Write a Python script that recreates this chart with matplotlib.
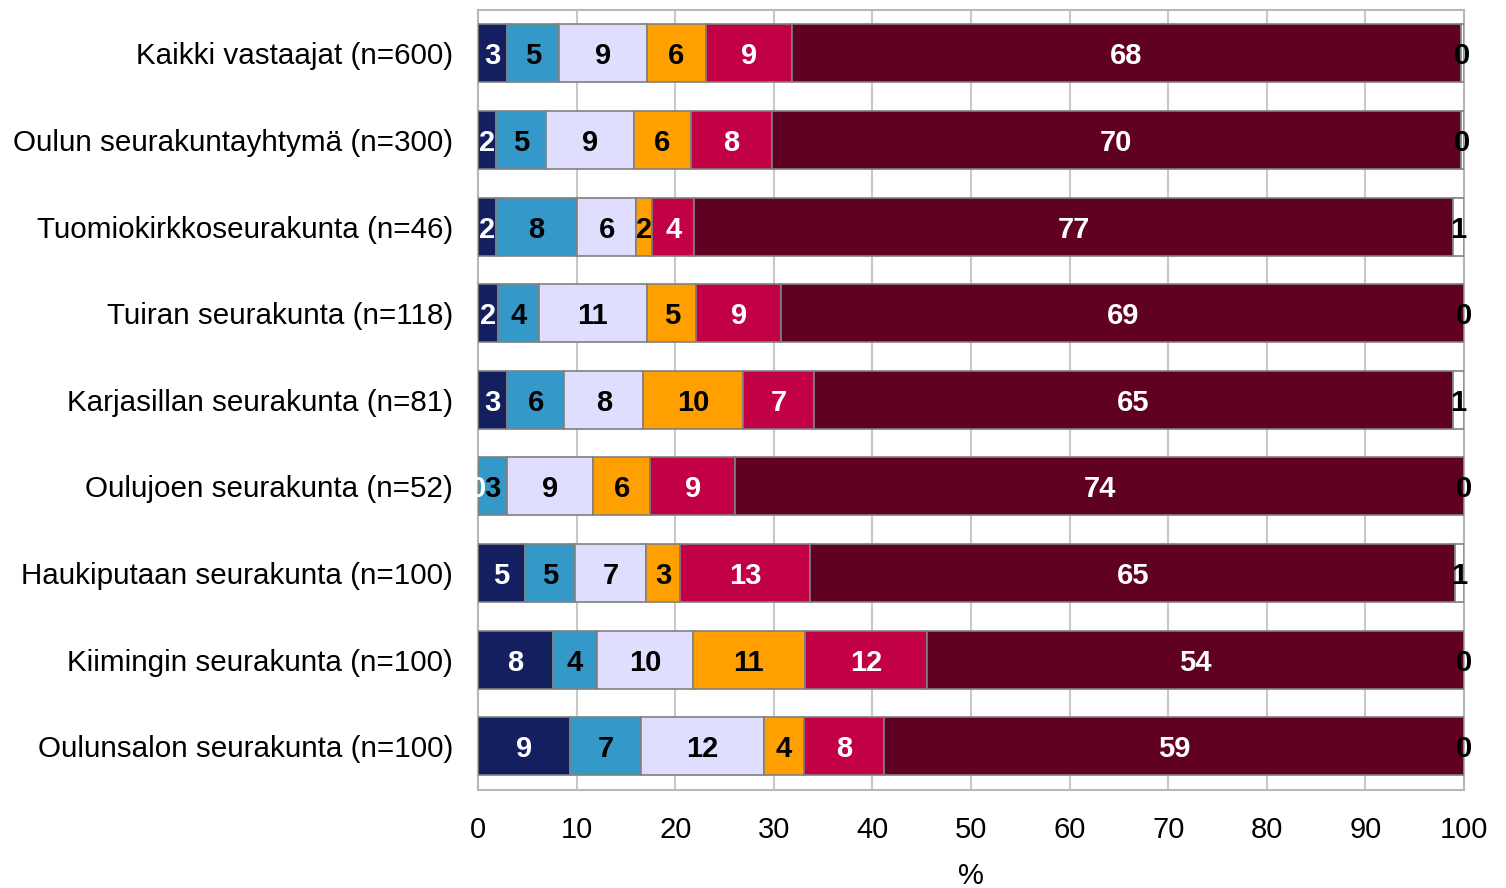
import matplotlib
matplotlib.use("Agg")
import matplotlib.pyplot as plt
import numpy as np

plt.rcParams['font.family'] = ['Liberation Sans', 'DejaVu Sans']

categories = [
    "Kaikki vastaajat (n=600)",
    "Oulun seurakuntayhtymä (n=300)",
    "Tuomiokirkkoseurakunta (n=46)",
    "Tuiran seurakunta (n=118)",
    "Karjasillan seurakunta (n=81)",
    "Oulujoen seurakunta (n=52)",
    "Haukiputaan seurakunta (n=100)",
    "Kiimingin seurakunta (n=100)",
    "Oulunsalon seurakunta (n=100)",
]

series_1 = [2.96, 1.84, 1.84, 2.01, 2.96, 0.0, 4.74, 7.62, 9.28]
series_2 = [5.27, 5.03, 8.22, 4.15, 5.81, 2.96, 5.07, 4.45, 7.27]
series_3 = [8.92, 8.92, 5.98, 10.99, 8.01, 8.72, 7.27, 9.70, 12.45]
series_4 = [5.94, 5.82, 1.65, 5.00, 10.06, 5.81, 3.45, 11.36, 4.09]
series_5 = [8.79, 8.21, 4.26, 8.62, 7.27, 8.61, 13.18, 12.45, 8.11]
series_6 = [67.79, 69.85, 76.90, 69.23, 64.74, 73.90, 65.38, 54.42, 58.80]
series_7 = [0.33, 0.33, 1.15, 0.0, 1.15, 0.0, 0.91, 0.0, 0.0]

xticks = [0, 10, 20, 30, 40, 50, 60, 70, 80, 90, 100]
xlabel = "%"

all_series = [series_1, series_2, series_3, series_4, series_5, series_6, series_7]
colors = ['#141F5F', '#3498C9', '#E0DEFF', '#FFA000', '#C20046', '#600022', '#FFFFFF']
text_colors = ['white', 'black', 'black', 'black', 'white', 'white', 'black']

fig = plt.figure(figsize=(15.06, 8.88), dpi=100)
ax = fig.add_axes([478 / 1506, 1 - 789.5 / 888, (1464 - 478) / 1506, (789.5 - 10) / 888])

y = np.arange(len(categories))
left = np.zeros(len(categories))
for vals, col, tcol in zip(all_series, colors, text_colors):
    vals = np.array(vals)
    ax.barh(y, vals, left=left, height=0.67, color=col, edgecolor='#808080',
            linewidth=1.2, zorder=3)
    for yi, (l, v) in enumerate(zip(left, vals)):
        ax.text(l + v / 2, yi + 0.035, f"{v:.0f}", ha='center', va='center',
                color=tcol, fontsize=21, fontweight='bold', zorder=4)
    left = left + vals

ax.set_xlim(0, 100)
ax.set_ylim(len(categories) - 0.5, -0.5)
ax.set_yticks(y)
ax.set_yticklabels(categories, fontsize=21.3)
ax.set_xticks(xticks)
ax.set_xticklabels([str(t) for t in xticks], fontsize=21)
ax.tick_params(axis='both', length=0)
ax.tick_params(axis='y', pad=18)
ax.tick_params(axis='x', pad=19)
ax.set_xlabel(xlabel, fontsize=21, labelpad=13)

ax.grid(axis='x', color='#C8C8C8', linewidth=1.5, zorder=0)
ax.set_axisbelow(True)
for side in ['top', 'right', 'bottom', 'left']:
    ax.spines[side].set_color('#B8B8B8')
    ax.spines[side].set_linewidth(1.5)

fig.savefig("out.png", dpi=100, facecolor='white')
